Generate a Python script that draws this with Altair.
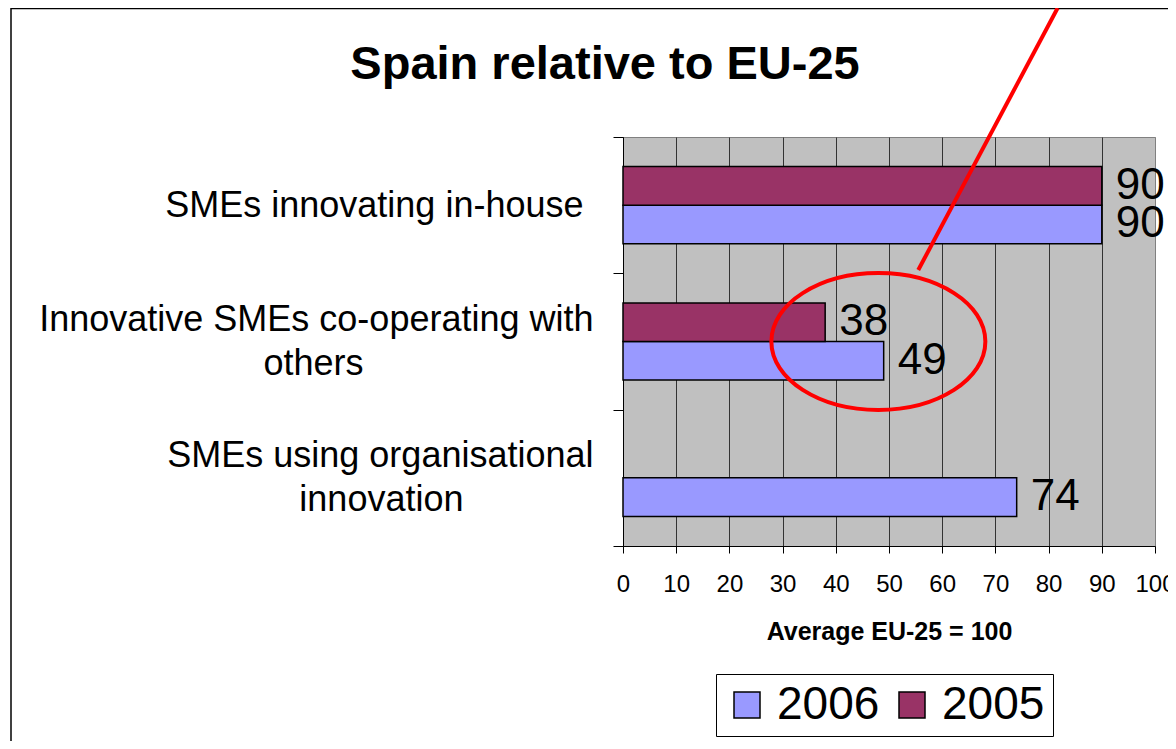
import altair as alt
import pandas as pd

# ---- data ----
categories = [
    "SMEs innovating in-house",
    "Innovative SMEs co-operating with others",
    "SMEs using organisational innovation",
]
years = ["2006", "2005"]
values_2006 = [90, 49, 74]
values_2005 = [90, 38, None]
x_ticks = list(range(0, 101, 10))

rows = []
for c, v6, v5 in zip(categories, values_2006, values_2005):
    rows.append({"category": c, "year": "2006", "value": v6})
    if v5 is not None:
        rows.append({"category": c, "year": "2005", "value": v5})
df = pd.DataFrame(rows)
one = pd.DataFrame({"k": [0]})

FONT = "Liberation Sans"
NB = "\u00a0"
ZW = "\u200b"
label_expr = (
    "datum.index < 0 ? '' : "
    f"datum.value == '{categories[0]}' ? 'SMEs innovating in-house{NB}{ZW}' : "
    f"datum.value == '{categories[1]}' ? ['Innovative SMEs co-operating with', 'others{NB * 23}{ZW}'] : "
    f"['SMEs using organisational', 'innovation{NB * 13}{ZW}']"
)

y_enc = alt.Y(
    "category:N",
    sort=categories,
    scale=alt.Scale(paddingInner=0, paddingOuter=0),
    axis=alt.Axis(
        title=None,
        labelExpr=label_expr,
        labelFont=FONT,
        labelFontSize=36,
        labelLineHeight=44,
        labelAlign="right",
        labelBaseline="middle",
        labelOffset=alt.condition(f"datum.value == '{categories[0]}'", alt.value(0), alt.value(-22)),
        labelPadding=20,
        labelLimit=2000,
        labelColor="black",
        tickSize=10,
        tickBand="extent",
        tickColor="black",
        domainColor="black",
        grid=False,
    ),
)
x_enc = alt.X(
    "value:Q",
    scale=alt.Scale(domain=[0, 100], nice=False),
    axis=alt.Axis(
        values=x_ticks,
        title="Average EU-25 = 100",
        titleFont=FONT,
        titleFontSize=25,
        titleFontWeight="bold",
        titleColor="black",
        titlePadding=23,
        labelFont=FONT,
        labelFontSize=24,
        labelColor="black",
        labelPadding=19,
        labelFlush=False,
        labelOverlap=False,
        tickSize=7,
        tickColor="black",
        domainColor="black",
        grid=True,
        gridColor=alt.condition("datum.value == 100", alt.value("#808080"), alt.value("#333333")),
        gridWidth=1,
    ),
)
yoff = alt.YOffset("year:N", sort=["2005", "2006"],
                   scale=alt.Scale(paddingInner=0, paddingOuter=0.766))

bars = alt.Chart(df).mark_bar(stroke="black", strokeWidth=1.5).encode(
    x=x_enc,
    y=y_enc,
    yOffset=yoff,
    color=alt.Color(
        "year:N",
        scale=alt.Scale(domain=years, range=["#9999FF", "#993366"]),
        legend=alt.Legend(
            title=None,
            orient="none",
            legendX=93,
            legendY=537,
            direction="horizontal",
            symbolType="square",
            symbolSize=676,
            symbolStrokeColor="black",
            symbolStrokeWidth=1.5,
            symbolOpacity=1,
            labelFont=FONT,
            labelFontSize=46,
            labelColor="black",
            labelOffset=7,
            columnPadding=9,
            padding=8,
            strokeColor="black",
            fillColor="white",
        ),
    ),
)

labels = alt.Chart(df).mark_text(
    align="left", baseline="middle", dx=14, fontSize=44, font=FONT, color="black"
).encode(
    x="value:Q",
    y=alt.Y("category:N", sort=categories),
    yOffset=alt.YOffset("year:N", sort=["2005", "2006"]),
    text="value:Q",
)

# ---- annotations (red ellipse + pointer line, chart frame) ----
ellipse = alt.Chart(one).mark_point(
    shape="M -1 0 A 1 0.64 0 1 1 1 0 A 1 0.64 0 1 1 -1 0 Z",
    size=45796,
    filled=False,
    stroke="#FF0000",
    strokeWidth=4,
    opacity=1,
).encode(
    x=alt.X(datum=48, type="quantitative"),
    y=alt.Y(datum=categories[1], type="nominal"),
)

pointer = alt.Chart(one).mark_rule(color="#FF0000", strokeWidth=4).encode(
    x=alt.X(datum=81.7, type="quantitative"),
    x2=alt.X2(datum=55.5),
    y=alt.value(-129),
    y2=alt.value(133),
)

frame_top = alt.Chart(one).mark_rule(color="black", strokeWidth=1.5).encode(
    x=alt.value(-612), x2=alt.value(560), y=alt.value(-128.5)
)
frame_left = alt.Chart(one).mark_rule(color="black", strokeWidth=1.5).encode(
    x=alt.value(-612), y=alt.value(-129), y2=alt.value(700)
)

chart = alt.layer(frame_top, frame_left, bars, labels, ellipse, pointer).properties(
    width=532,
    height=409,
    padding={"left": 615, "top": 129, "right": 13, "bottom": 195},
    autosize=alt.AutoSizeParams(type="none"),
    background="white",
    title=alt.TitleParams(
        "Spain relative to EU-25",
        font=FONT,
        fontSize=47,
        fontWeight="bold",
        color="black",
        anchor="middle",
        frame="group",
        dx=-284,
        offset=-120,
        baseline="alphabetic",
    ),
).configure_view(fill="#C0C0C0", stroke="#808080", strokeWidth=1)

chart.save("out.html", embed_options={"renderer": "svg", "actions": False})
